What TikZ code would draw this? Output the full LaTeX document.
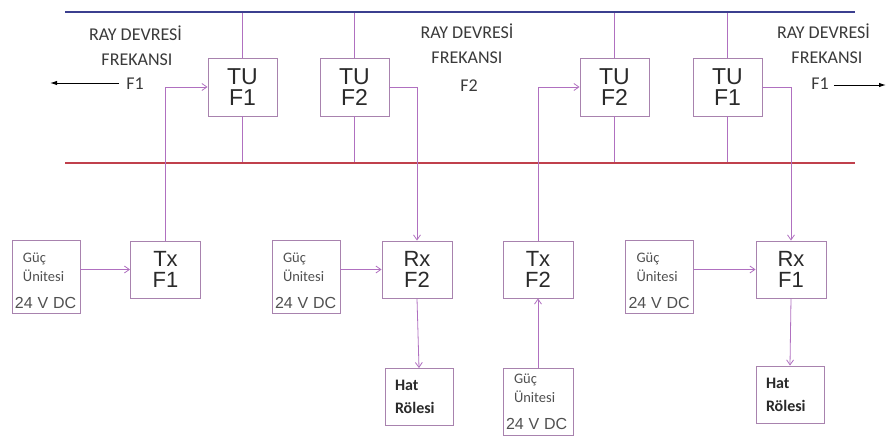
\documentclass[tikz,border=0pt]{standalone}
\usepackage{fontspec}
\setmainfont{Carlito}
\newfontfamily\arialf{Liberation Sans}
\usetikzlibrary{arrows.meta}
\definecolor{boxc}{HTML}{A882AE}
\definecolor{linec}{HTML}{B070C0}
\definecolor{busblue}{HTML}{3B3F8F}
\definecolor{busred}{HTML}{C0404C}
\definecolor{txtc}{HTML}{2A2A2A}
\definecolor{lblc}{HTML}{3A3A3A}
\definecolor{gucc}{HTML}{505050}
\begin{document}
\begin{tikzpicture}[x=1pt,y=-1pt,
  unit/.style={draw=boxc,line width=0.9pt,fill=white,minimum width=69pt,minimum height=58pt,inner sep=0pt,align=center,
    font=\arialf\fontsize{23}{21}\selectfont,text=txtc},
  txrx/.style={unit,minimum width=70pt,minimum height=57pt,font=\arialf\fontsize{22}{21}\selectfont},
  guc/.style={draw=boxc,line width=0.9pt,fill=white,minimum width=68pt,minimum height=73pt,inner xsep=2pt,inner ysep=0pt,
    text width=64pt,align=left,text=gucc,font=\fontsize{14.5}{19}\selectfont},
  hat/.style={draw=boxc,line width=0.9pt,fill=white,minimum width=68pt,minimum height=57pt,inner xsep=2pt,inner ysep=0pt,
    text width=64pt,align=left,font=\bfseries\fontsize{16}{23}\selectfont,text=txtc},
  conn/.style={draw=linec,line width=0.8pt},
  arr/.style={conn,-{Straight Barb[length=5pt,width=7pt]}},
  lbl/.style={font=\fontsize{18}{25}\selectfont,text=lblc,align=center,inner sep=0pt},
  bus/.style={line width=2.2pt}
]
\useasboundingbox (0,0) rectangle (887,437);
% buses
\coordinate (bl) at (65,12);
\coordinate (br) at (855,12);
\coordinate (rl) at (65,163);
\coordinate (rr) at (855,163);
% TU units
\node[unit] (tu1) at (242.5,87) {TU\\F1};
\node[unit] (tu2) at (354.5,87) {TU\\F2};
\node[unit] (tu3) at (614.5,87) {TU\\F2};
\node[unit] (tu4) at (727.5,87) {TU\\F1};
% bus connections
\foreach \n in {tu1,tu2,tu3,tu4}{
  \draw[conn] (\n.north) -- (\n.north |- bl);
  \draw[conn] (\n.south) -- (\n.south |- rl);
}
% Tx / Rx
\node[txrx] (tx1) at (165.5,269.5) {Tx\\F1};
\node[txrx] (rx2) at (417,269.5) {Rx\\F2};
\node[txrx] (tx2) at (538,269.5) {Tx\\F2};
\node[txrx] (rx1) at (791,269.5) {Rx\\F1};
% power units
\newcommand{\gucText}[1]{\hspace*{9pt}\rule{0pt}{#1}Güç\\\hspace*{9pt}Ünitesi\\[8pt]\hspace*{1pt}{\arialf\fontsize{16}{19}\selectfont 24 V DC}}
\node[guc] (g1) at (46,276.5) {\gucText{19pt}};
\node[guc] (g2) at (306,276.5) {\gucText{19pt}};
\node[guc] (g4) at (659.5,276.5) {\gucText{19pt}};
\node[guc,minimum width=70pt,text width=66pt,minimum height=67pt] (g3) at (538,401.5) {\gucText{10pt}};
% line relays
\node[hat] (h1) at (419,397) {\hspace*{8pt}Hat\\\hspace*{8pt}Rölesi};
\node[hat] (h2) at (790,394.5) {\hspace*{8pt}Hat\\\hspace*{8pt}Rölesi};
% buses drawn
\draw[bus,busblue] (bl) -- (br);
\draw[bus,busred] (rl) -- (rr);
% signal connectors
\draw[arr] (tx1.north) |- (tu1.west);
\draw[arr] (tu2.east) -| (rx2.north);
\draw[arr] (tx2.north) |- (tu3.west);
\draw[arr] (tu4.east) -| (rx1.north);
\draw[arr] (g1.east |- tx1.west) -- (tx1.west);
\draw[arr] (g2.east |- rx2.west) -- (rx2.west);
\draw[arr] (g4.east |- rx1.west) -- (rx1.west);
\draw[arr] (g3.north) -- (tx2.south);
\draw[arr] (rx2.south) -- (h1.north);
\draw[arr] (rx1.south) -- (h2.north);
% frequency labels
\node[lbl,anchor=base] (la1) at (135.5,40) {RAY DEVRESİ};
\node[lbl,anchor=base] (la2) at (137,65) {FREKANSI};
\node[lbl,anchor=base] (la3) at (135,89) {F1};
\node[lbl,anchor=base] (lb1) at (467,38) {RAY DEVRESİ};
\node[lbl,anchor=base] (lb2) at (467,63) {FREKANSI};
\node[lbl,anchor=base] (lb3) at (469,91) {F2};
\node[lbl,anchor=base] (lc1) at (823.5,38) {RAY DEVRESİ};
\node[lbl,anchor=base] (lc2) at (827,63) {FREKANSI};
\node[lbl,anchor=base] (lc3) at (820,89) {F1};
\coordinate (al) at (50,83);
\coordinate (ar) at (886,85);
\draw[line width=1pt,-{Latex[length=7pt,width=4.5pt]}] (la3.west |- al) ++(-7,0) -- (al);
\draw[line width=1pt,-{Latex[length=7pt,width=4.5pt]}] (lc3.east |- ar) ++(5,0) -- (ar);
\end{tikzpicture}
\end{document}
